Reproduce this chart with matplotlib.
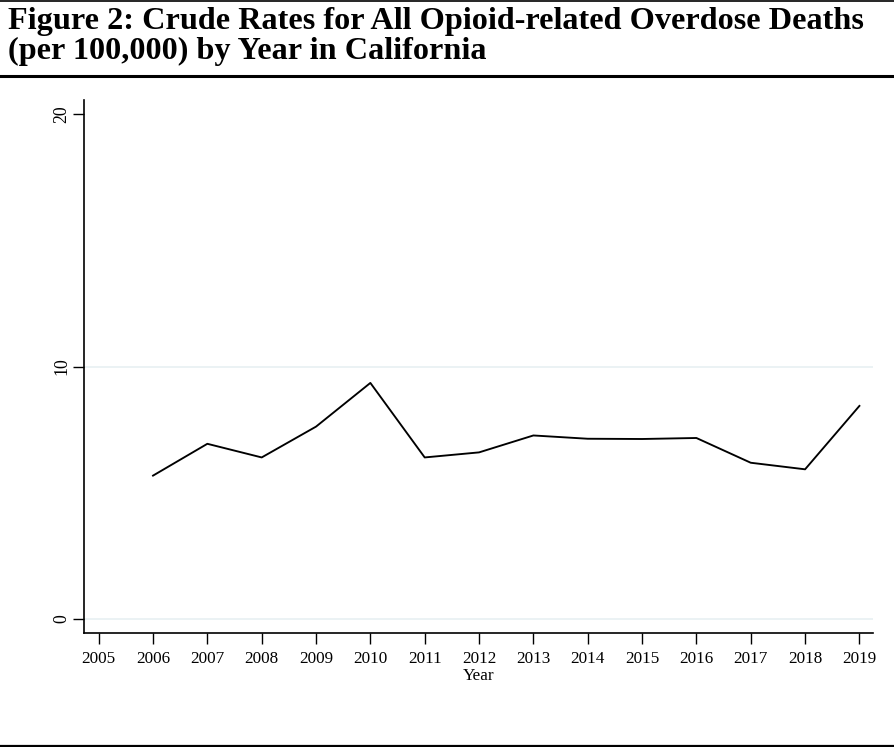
import matplotlib
matplotlib.use("Agg")
import matplotlib.pyplot as plt
from matplotlib.lines import Line2D

# crude rates per 100,000
years = [2006, 2007, 2008, 2009, 2010, 2011, 2012,
         2013, 2014, 2015, 2016, 2017, 2018, 2019]
rates = [5.68, 6.94, 6.40, 7.62, 9.35, 6.40, 6.60,
         7.27, 7.14, 7.13, 7.17, 6.19, 5.93, 8.44]
x_ticks = list(range(2005, 2020))
y_ticks = [0, 10, 20]
grid_vals = [0, 10]

title = ("Figure 2: Crude Rates for All Opioid-related Overdose Deaths\n"
         "(per 100,000) by Year in California")

plt.rcParams['font.family'] = ['Liberation Serif', 'DejaVu Serif']

fig = plt.figure(figsize=(8.95, 7.47), dpi=100)
ax = fig.add_axes([84/895, 1 - 633/747, (873 - 84)/895, (633 - 100)/747])

for g in grid_vals:
    ax.axhline(g, color='#e8f0f2', lw=1.2, zorder=0)

ax.plot(years, rates, color='black', lw=1.35, zorder=3)

ax.set_xlim(2004.73, 2019.25)
ax.set_ylim(-0.55, 20.55)
ax.set_xticks(x_ticks)
ax.set_yticks(y_ticks)
ax.tick_params(axis='both', length=8, width=1, color='black', labelsize=12.3)
ax.tick_params(axis='x', pad=5)
ax.tick_params(axis='y', pad=2, labelsize=12.8)
for lab in ax.get_yticklabels():
    lab.set_rotation(90)
    lab.set_va('center')
ax.set_xlabel("Year", fontsize=12.3, labelpad=1)

for s in ['top', 'right']:
    ax.spines[s].set_visible(False)
for s in ['left', 'bottom']:
    ax.spines[s].set_linewidth(1.2)

# title block with rules
fig.text(8/895, 1 - 7/747, title, fontsize=23.2, fontweight='bold',
         ha='left', va='top', linespacing=1.02)
fig.add_artist(Line2D([0, 1], [1 - 0.8/747, 1 - 0.8/747], color='black', lw=1.2,
                      transform=fig.transFigure))
fig.add_artist(Line2D([0, 1], [1 - 76/747, 1 - 76/747], color='black', lw=2.2,
                      transform=fig.transFigure))
fig.add_artist(Line2D([0, 1], [1 - 745.5/747, 1 - 745.5/747], color='black', lw=1.6,
                      transform=fig.transFigure))

fig.savefig("out.png", dpi=100)
